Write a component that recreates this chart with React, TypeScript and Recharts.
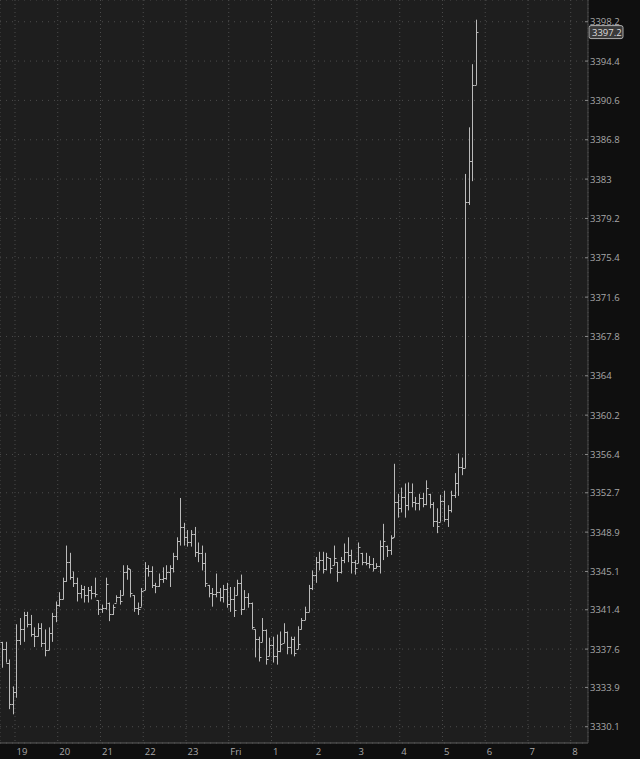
import React from 'react'
import {
  ComposedChart,
  Bar,
  XAxis,
  YAxis,
  CartesianGrid,
  ReferenceLine,
} from 'recharts'

// 5 minute bars, first one at 18:40 (minutes counted from 18:00)
const firstBarMinute = 40
const barMinutes = 5

const opens = [
  3338.3, 3337.6, 3336.3, 3332.3, 3333.5, 3338.5, 3339.5, 3340.9, 3340.0, 3339.1,
  3338.9, 3339.6, 3338.2, 3337.5, 3339.2, 3340.8, 3341.9, 3342.4, 3344.2, 3346.0,
  3344.6, 3344.0, 3343.0, 3343.4, 3342.8, 3343.3, 3343.0, 3342.3, 3341.5, 3341.6,
  3342.1, 3341.0, 3342.1, 3342.6, 3342.8, 3345.0, 3345.3, 3342.8, 3341.6, 3341.7,
  3343.3, 3345.4, 3345.1, 3343.8, 3343.7, 3344.4, 3344.5, 3345.0, 3345.4, 3346.6,
  3348.0, 3349.4, 3348.4, 3347.9, 3348.7, 3347.0, 3346.9, 3345.9, 3343.8, 3343.0,
  3342.9, 3343.1, 3342.6, 3343.4, 3342.0, 3342.4, 3342.8, 3344.0, 3341.5, 3342.6,
  3342.1, 3339.5, 3338.6, 3338.3, 3339.4, 3336.9, 3338.0, 3336.9, 3337.4, 3338.2,
  3339.3, 3337.8, 3338.6, 3337.6, 3339.5, 3340.4, 3341.2, 3343.5, 3344.8, 3346.0,
  3346.2, 3345.3, 3346.4, 3345.7, 3346.0, 3345.0, 3346.2, 3347.0, 3346.7, 3346.0,
  3345.9, 3346.9, 3346.0, 3345.9, 3345.8, 3345.4, 3345.6, 3347.6, 3347.6, 3347.2,
  3348.4, 3351.8, 3351.2, 3352.3, 3351.5, 3352.8, 3351.8, 3351.7, 3352.2, 3351.6,
  3352.6, 3351.6, 3350.0, 3349.9, 3351.9, 3350.2, 3351.0, 3352.5, 3353.6, 3355.2,
  3355.1, 3380.8, 3384.7, 3392.1,
]

const highs = [
  3338.3, 3338.3, 3336.6, 3334.0, 3340.0, 3340.6, 3341.2, 3341.2, 3340.9, 3339.7,
  3340.1, 3340.1, 3339.5, 3339.7, 3341.1, 3342.2, 3343.1, 3344.5, 3347.6, 3346.9,
  3345.1, 3344.5, 3343.8, 3343.7, 3343.6, 3343.7, 3344.5, 3342.3, 3341.9, 3344.5,
  3342.1, 3341.9, 3342.8, 3343.3, 3345.7, 3345.7, 3345.3, 3342.8, 3342.1, 3343.5,
  3346.0, 3345.7, 3345.6, 3344.0, 3344.9, 3345.5, 3345.7, 3345.7, 3346.9, 3348.4,
  3352.2, 3349.8, 3349.1, 3349.1, 3349.4, 3347.9, 3347.6, 3346.9, 3343.8, 3343.5,
  3344.9, 3343.5, 3343.8, 3344.0, 3343.6, 3343.6, 3344.3, 3344.8, 3343.3, 3343.0,
  3342.1, 3339.5, 3338.8, 3340.6, 3339.5, 3338.7, 3338.8, 3339.0, 3339.3, 3340.1,
  3339.3, 3338.8, 3338.8, 3339.8, 3340.6, 3341.7, 3343.8, 3345.2, 3346.5, 3347.0,
  3347.0, 3346.9, 3346.4, 3347.6, 3346.0, 3346.5, 3347.8, 3348.4, 3347.2, 3346.2,
  3347.9, 3346.9, 3346.9, 3346.6, 3346.4, 3345.9, 3348.1, 3349.7, 3347.6, 3348.6,
  3355.5, 3352.6, 3353.2, 3353.6, 3353.7, 3353.6, 3352.3, 3352.6, 3352.7, 3353.9,
  3352.6, 3351.8, 3351.2, 3352.5, 3352.9, 3351.5, 3352.9, 3354.6, 3356.5, 3356.1,
  3383.5, 3388.0, 3394.1, 3398.4,
]

const lows = [
  3335.8, 3336.3, 3331.8, 3331.3, 3332.9, 3338.0, 3338.3, 3339.7, 3338.8, 3337.8,
  3338.8, 3337.8, 3336.9, 3337.5, 3338.3, 3340.2, 3341.7, 3342.4, 3344.1, 3344.3,
  3343.6, 3342.2, 3342.5, 3342.1, 3342.1, 3342.4, 3342.6, 3340.9, 3341.1, 3341.4,
  3340.3, 3340.9, 3342.1, 3341.9, 3342.8, 3344.3, 3342.6, 3341.2, 3340.9, 3341.7,
  3343.3, 3344.6, 3343.5, 3343.0, 3343.6, 3344.0, 3344.3, 3343.6, 3345.0, 3346.2,
  3347.6, 3347.6, 3347.5, 3347.5, 3346.5, 3346.0, 3345.2, 3343.6, 3342.6, 3341.7,
  3342.6, 3342.2, 3342.1, 3341.6, 3341.2, 3340.7, 3342.8, 3340.9, 3341.4, 3341.6,
  3339.5, 3336.8, 3336.4, 3338.3, 3336.1, 3336.9, 3336.3, 3336.1, 3337.3, 3338.2,
  3337.1, 3337.1, 3336.9, 3337.6, 3339.5, 3340.4, 3341.2, 3343.3, 3344.0, 3345.2,
  3344.9, 3345.2, 3344.9, 3345.7, 3344.1, 3344.9, 3345.9, 3346.0, 3344.9, 3344.8,
  3345.9, 3345.7, 3345.7, 3345.4, 3345.1, 3345.4, 3344.9, 3346.2, 3346.5, 3346.7,
  3348.4, 3350.3, 3350.8, 3350.3, 3351.0, 3351.3, 3351.0, 3351.0, 3351.3, 3351.5,
  3351.2, 3349.4, 3348.8, 3349.9, 3349.9, 3349.4, 3350.8, 3352.2, 3352.4, 3354.4,
  3355.1, 3380.5, 3382.8, 3392.1,
]

const closes = [
  3337.6, 3336.3, 3332.3, 3333.5, 3338.5, 3339.5, 3340.9, 3340.0, 3339.1, 3338.9,
  3339.6, 3338.2, 3337.5, 3339.2, 3340.8, 3341.9, 3342.4, 3344.2, 3346.0, 3344.6,
  3344.0, 3343.0, 3343.4, 3342.8, 3343.3, 3343.0, 3342.9, 3341.5, 3341.6, 3343.9,
  3341.0, 3341.7, 3342.6, 3342.2, 3345.0, 3345.4, 3343.0, 3341.6, 3341.5, 3343.2,
  3345.4, 3345.1, 3343.8, 3343.7, 3344.4, 3344.5, 3345.0, 3345.4, 3346.6, 3348.0,
  3349.4, 3348.4, 3347.9, 3348.7, 3347.0, 3346.9, 3345.9, 3344.0, 3343.0, 3342.9,
  3343.1, 3342.6, 3343.4, 3342.0, 3342.4, 3341.4, 3344.0, 3341.5, 3342.6, 3342.1,
  3339.7, 3338.6, 3336.8, 3339.4, 3336.6, 3338.0, 3336.9, 3337.4, 3338.1, 3339.3,
  3337.8, 3338.6, 3337.2, 3338.1, 3340.4, 3341.2, 3343.5, 3344.8, 3346.0, 3346.2,
  3345.3, 3346.5, 3345.4, 3346.4, 3345.0, 3346.2, 3347.0, 3346.7, 3346.0, 3345.4,
  3347.5, 3346.0, 3345.9, 3345.8, 3345.4, 3345.6, 3347.6, 3348.0, 3347.2, 3348.3,
  3351.8, 3351.2, 3352.3, 3351.5, 3352.8, 3351.8, 3351.7, 3352.2, 3351.6, 3353.2,
  3351.6, 3350.0, 3349.5, 3351.9, 3350.2, 3351.0, 3352.5, 3353.6, 3355.2, 3355.1,
  3380.8, 3384.7, 3392.1, 3397.2,
]

const hourTicks = [60, 120, 180, 240, 300, 360, 420, 480, 540, 600, 660, 720, 780, 840]
const hourLabels = ['19', '20', '21', '22', '23', 'Fri', '1', '2', '3', '4', '5', '6', '7', '8']

const priceTicks = [
  3330.1, 3333.9, 3337.6, 3341.4, 3345.1, 3348.9, 3352.7, 3356.4, 3360.2, 3364,
  3367.8, 3371.6, 3375.4, 3379.2, 3383, 3386.8, 3390.6, 3394.4, 3398.2,
]

const lastPrice = 3397.2

const data = highs.map((h, i) => ({
  t: firstBarMinute + i * barMinutes + barMinutes / 2,
  range: [lows[i], h],
  o: opens[i],
  h,
  l: lows[i],
  c: closes[i],
}))

const font = '"Open Sans", "DejaVu Sans", sans-serif'

function OhlcBar(props: any) {
  const { x, y, width, height, payload } = props
  if (!payload || height == null) return null
  const top = Math.min(y, y + height)
  const bottom = Math.max(y, y + height)
  const span = payload.h - payload.l || 1
  const at = (v: number) => Math.round(top + ((payload.h - v) / span) * (bottom - top)) + 0.5
  const cx = Math.round(x + width / 2) + 0.5
  return (
    <g stroke="#bababa" strokeWidth={1}>
      <line x1={cx} x2={cx} y1={top} y2={bottom} />
      <line x1={cx - 2} x2={cx} y1={at(payload.o)} y2={at(payload.o)} />
      <line x1={cx} x2={cx + 2} y1={at(payload.c)} y2={at(payload.c)} />
    </g>
  )
}

function PriceTick({ x, y, payload }: any) {
  return (
    <g>
      <line x1={x - 5} x2={x - 2} y1={y} y2={y} stroke="#8a8a8a" />
      <text x={x} y={y} dy={3.5} fill="#a9a9a9" fontSize={9.5} fontFamily={font} textAnchor="start">
        {payload.value}
      </text>
    </g>
  )
}

function HourTick({ x, y, payload }: any) {
  const idx = hourTicks.indexOf(payload.value)
  return (
    <text x={x + 1.5} y={y} dy={12} fill="#a9a9a9" fontSize={9.5} fontFamily={font} textAnchor="start">
      {hourLabels[idx]}
    </text>
  )
}

function LastPriceLabel({ viewBox }: any) {
  const left = viewBox.x + viewBox.width + 1
  const cy = viewBox.y
  return (
    <g>
      <rect x={left} y={cy - 6.5} width={34} height={13} rx={2} fill="#3a3a3a" stroke="#cfcfcf" strokeWidth={0.8} />
      <text x={left + 3} y={cy} dy={3.5} fill="#dcdcdc" fontSize={9.5} fontFamily={font}>
        {lastPrice}
      </text>
    </g>
  )
}

export default function App() {
  return (
    <div style={{ position: 'absolute', left: 0, top: 0, width: 640, height: 759, background: '#0f0f0f' }}>
      <ComposedChart width={640} height={759} data={data} margin={{ top: 0, right: 0, bottom: 0, left: 0 }}>
        <CartesianGrid fill="#1e1e1e" stroke="#4c4c4c" strokeDasharray="1 5" vertical={false} />
        <CartesianGrid stroke="#4c4c4c" strokeDasharray="1 3" horizontal={false} />
        <XAxis
          dataKey="t"
          type="number"
          domain={[38.95, 864.25]}
          allowDataOverflow
          ticks={hourTicks}
          interval={0}
          height={16}
          tickSize={0}
          tickMargin={0}
          tick={<HourTick />}
          axisLine={{ stroke: '#5e5e5e' }}
        />
        <YAxis
          orientation="right"
          type="number"
          domain={[3328.53, 3400.3]}
          allowDataOverflow
          ticks={priceTicks}
          interval={0}
          width={52}
          tickSize={0}
          tickMargin={2}
          tick={<PriceTick />}
          axisLine={{ stroke: '#4a4a4a' }}
        />
        <Bar dataKey="range" barSize={3} shape={<OhlcBar />} isAnimationActive={false} />
        <ReferenceLine y={lastPrice} stroke="none" label={<LastPriceLabel />} />
      </ComposedChart>
    </div>
  )
}
